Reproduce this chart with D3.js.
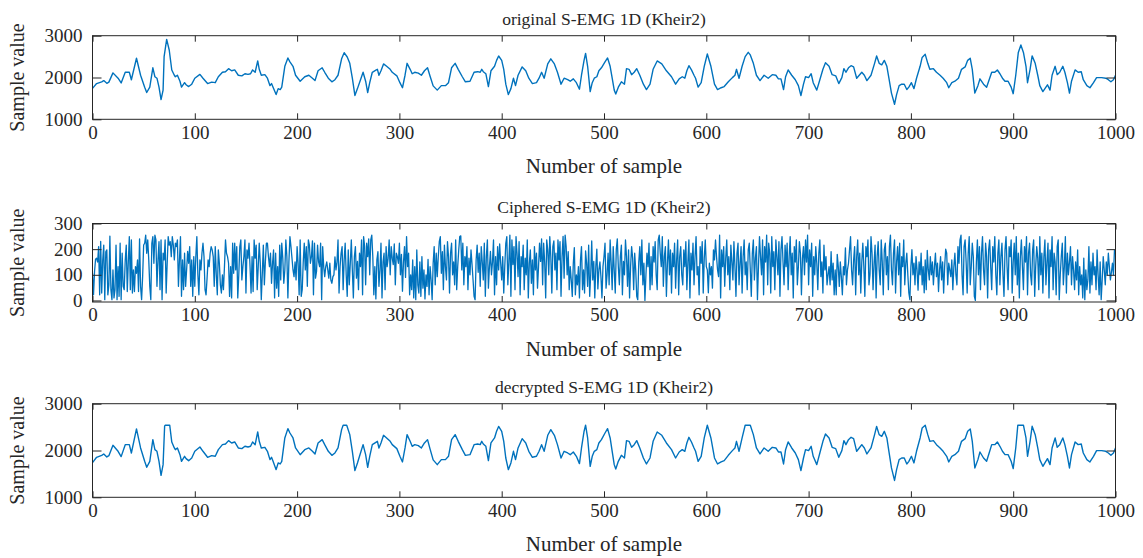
<!DOCTYPE html>
<html><head><meta charset="utf-8">
<script src="https://cdn.jsdelivr.net/npm/d3@7"></script>
<style>
body{margin:0;background:#fff}
svg text{font-family:"Liberation Serif","Times New Roman",serif;fill:#262626}
</style>
</head><body>
<svg id="chart" width="1143" height="558"></svg>
<script>
// ---------- data ----------
const sampleTicks = [0,100,200,300,400,500,600,700,800,900,1000];
const emgTicks = [1000,2000,3000];
const cipherTicks = [0,100,200,300];
const titles = ["original S-EMG 1D (Kheir2)","Ciphered S-EMG 1D (Kheir2)","decrypted S-EMG 1D (Kheir2)"];
const xLabel = "Number of sample";
const yLabel = "Sample value";

// original signal: [sample, value] turning points
const originalPoints = [[0,1740],[4,1855],[9,1897],[11,1926],[14,1862],[16,1890],[20,2111],[25,1983],[28,1869],[32,2125],[36,2125],[38,1947],[43,2460],[47,2054],[51,1769],[53,1641],[56,1769],[59,2232],[61,2018],[63,1983],[65,1769],[67,1470],[69,1698],[70,2498],[72.5,2913],[75,2658],[77.5,2180],[80,2054],[81,2018],[83,2054],[85.5,1911],[87,1769],[90,1876],[91.5,1826],[94,1783],[97,1840],[100,1983],[105,2075],[108,1983],[112.5,1855],[116.5,1890],[120,1876],[123,2018],[127,2125],[130,2139],[133,2211],[136,2161],[139,2182],[142.5,2054],[146,2040],[149,2090],[152,2075],[154.5,2090],[156.5,2182],[159,2125],[161.5,2396],[163,2196],[165,2054],[168.5,2068],[171,1983],[173.5,1805],[175,1855],[176.5,1769],[179.5,1591],[181.5,1734],[183.5,1712],[185,1769],[188,2268],[191,2467],[193,2374],[196,2268],[198.5,2054],[203,1911],[207.5,2018],[211.5,2054],[215,1983],[217.5,1926],[220.5,2161],[224.5,2232],[227,2125],[230.5,1983],[234,1897],[237,1947],[240,2054],[243.5,2446],[246,2594],[249,2490],[251.5,2339],[254,1983],[256.5,1570],[259,1734],[262.5,1983],[264.5,2125],[267,1911],[269,1641],[271,1876],[273.5,2125],[277,2175],[278.5,2196],[280,2054],[282,2161],[284.5,2325],[287.5,2268],[291,2196],[293,2125],[297.5,2040],[300.5,1876],[303,1755],[305.5,2054],[307.5,2339],[310.5,2196],[312.5,2090],[315,2125],[318.5,2104],[321.5,2054],[324.5,2161],[327.5,2232],[330,2030],[333,1800],[337,1698],[341,1805],[345,1805],[348,1876],[351,2232],[354.5,2339],[357.5,2196],[361.5,2018],[364.5,1897],[369,1911],[373,2125],[376.5,2139],[379,2125],[380.5,2196],[382,2139],[384.5,2090],[387,1783],[389.5,2161],[393,2268],[395,2410],[397,2514],[400,2410],[402,2196],[404,1840],[406.5,1591],[409,1734],[411.5,1983],[413.5,1805],[416,2054],[420,2253],[423.5,2161],[426.5,1983],[430,1855],[434,1876],[436.5,1983],[439,2125],[441.5,1983],[445,2325],[448,2446],[451.5,2325],[454.5,2125],[458,1840],[461,1983],[464.5,1947],[467,1911],[470,1968],[473,1876],[476,1720],[478,2054],[480.5,2410],[482,2578],[484,2268],[486.5,1662],[488.5,1876],[490.5,1983],[493,2018],[495,2161],[497.5,2232],[501,2374],[503.5,2467],[506,2268],[508,1983],[510,1698],[511.5,1605],[514,1769],[517,1897],[520,1840],[522,2211],[524.5,2196],[527,2068],[529.5,2125],[532,2211],[535,2054],[538.5,1840],[541.5,1712],[545,1840],[548,2196],[552,2396],[556.5,2325],[561,2161],[566,2018],[570,1840],[573.5,1968],[576.5,2018],[579,1983],[581,2161],[583,2282],[585.5,2182],[588,2054],[589.5,1983],[592,1769],[595,1876],[598,2268],[601,2562],[604.5,2268],[608,1840],[611,1712],[614.5,1755],[617.5,1783],[621.5,1897],[625.5,1997],[628,2054],[629.5,2196],[632,1983],[635,2268],[638,2500],[641,2602],[643,2540],[646,2339],[649,2054],[652.5,1926],[656.5,2054],[660.5,1983],[664.5,2068],[668,2054],[670.5,1968],[673,1968],[675.5,1712],[677.5,2018],[680,2182],[683.5,2054],[687,1947],[690,1805],[692.5,1570],[695,1840],[697,2018],[700,1997],[702.5,2090],[704.5,1876],[708,1698],[711,1947],[714,2196],[716.5,2353],[720,2268],[723,2068],[726.5,2040],[729.5,1855],[732.5,1997],[734.5,2211],[736.5,2125],[739,2232],[741.5,2282],[744,2253],[747,1983],[749.5,2054],[752,2125],[754.5,2054],[757,1926],[761,2054],[764.5,2339],[766.5,2514],[769,2339],[771.5,2303],[774,2410],[776.5,2268],[778.5,1983],[781,1627],[784,1360],[786,1591],[788.5,1805],[791,1840],[793.5,1840],[796,1712],[798,1769],[800.5,1876],[803,1734],[805.5,1983],[809,2268],[811,2481],[814,2554],[816.5,2339],[818.5,2196],[822,2211],[825,2125],[828.5,2054],[831.5,1983],[835,1876],[837,1755],[840,1876],[843,1911],[846.5,1983],[849.5,2196],[853,2253],[855.5,2410],[858,2460],[860,2196],[862.5,1627],[865.5,1805],[867.5,1968],[871,1840],[874,1769],[876.5,1947],[879,2125],[882,2125],[884.5,2182],[887,2090],[889.5,1983],[892,1911],[895,1911],[898,1769],[900,1613],[902.5,2054],[905,2600],[907.5,2777],[910,2600],[912.5,2268],[914,1876],[916.5,2196],[918.5,2517],[921.5,2339],[924,2054],[926,1805],[929,1662],[931,1734],[933.5,1826],[936,1698],[938,2054],[941,2268],[943,2068],[945.5,2125],[948.5,2268],[950.5,2125],[953,1876],[955,1627],[957,1911],[960.5,2182],[963.5,2125],[966.5,2139],[968.5,1947],[972,1805],[975,1755],[978.5,1876],[981.5,1997],[986.5,1997],[990.5,1983],[993,1947],[995.5,1897],[998,1947],[1000,2054]];

// ciphered signal: one value per sample (0..999)
const cipherValues = [
106,22,113,161,165,150,210,22,230,29,
158,216,3,190,197,22,61,251,42,3,
119,10,42,216,3,132,16,223,3,184,
55,42,158,216,35,150,249,42,236,29,
119,35,132,106,158,35,240,55,3,93,
216,223,255,184,236,158,55,3,223,249,
145,255,236,55,158,229,42,236,3,184,
158,236,29,145,249,216,229,171,249,216,
158,223,210,236,55,158,249,16,158,42,
184,55,119,191,145,210,55,158,16,171,
55,171,249,100,22,158,119,184,223,171,
42,22,87,158,132,184,210,197,171,55,
210,100,22,197,145,61,29,100,42,132,
236,184,171,145,16,132,10,223,106,223,
119,210,10,100,210,236,80,132,171,236,
29,197,165,223,132,29,171,35,236,165,
216,42,132,223,145,3,106,216,61,152,
223,223,171,132,184,67,145,197,10,184,
48,132,16,216,80,223,165,67,119,236,
171,10,152,249,210,165,119,93,150,80,
210,145,22,236,16,42,150,223,119,210,
55,236,216,145,171,232,22,223,87,113,
216,150,132,223,3,210,132,93,132,150,
119,87,145,80,67,93,100,170,119,150,
236,29,132,184,210,42,158,223,100,16,
197,61,145,236,119,10,171,210,87,152,
42,184,132,236,22,249,210,61,223,171,
240,100,236,255,171,22,132,6,158,190,
55,120,223,10,150,184,42,210,132,165,
236,100,210,165,140,220,61,184,171,145,
223,100,180,36,150,210,90,249,132,184,
22,100,42,158,10,132,3,197,61,29,
150,16,171,48,119,6,100,55,160,22,
132,80,3,145,210,61,184,93,171,229,
249,106,190,42,216,132,80,229,171,29,
184,223,100,150,61,236,42,132,197,249,
252,119,223,61,171,132,210,42,165,100,
197,140,80,16,3,158,216,110,184,55,
210,150,80,223,16,171,236,48,132,191,
100,150,236,22,171,61,210,119,220,145,
80,171,29,132,223,249,61,152,255,16,
236,140,210,42,249,184,93,229,22,171,
132,216,42,165,100,236,10,145,197,67,
158,22,210,119,184,48,132,223,152,240,
61,223,150,10,236,197,100,249,171,29,
210,232,119,184,42,236,158,229,16,171,
250,87,255,210,100,190,42,132,80,16,
145,206,22,100,61,132,10,158,210,42,
119,29,193,145,55,216,16,100,232,80,
152,10,132,200,45,119,150,93,10,132,
171,223,48,100,184,61,236,145,42,210,
119,29,197,240,132,61,171,216,22,152,
100,236,171,55,197,10,132,210,165,42,
184,119,16,3,150,210,100,236,61,145,
0,100,184,132,223,42,171,61,210,150,
229,100,42,236,255,184,132,249,55,171,
210,16,145,236,100,197,29,184,132,223,
48,158,236,22,171,210,100,61,197,132,
229,42,150,236,10,184,119,223,61,171,
249,100,132,22,210,145,229,29,165,236,
132,119,30,145,100,132,48,197,158,236,
171,119,93,255,10,197,132,210,55,165,
236,100,171,42,216,150,80,229,132,16,
184,223,61,145,210,29,171,236,100,150,
42,197,223,119,16,184,236,80,165,210,
3,132,249,171,100,236,22,210,150,255,
61,223,184,29,249,132,190,42,236,171,
100,229,16,197,249,150,61,216,132,223,
42,171,249,100,184,10,210,150,236,61,
132,229,184,22,165,210,100,236,150,255,
61,197,132,223,16,171,100,210,145,42,
184,236,93,150,29,216,119,171,61,100,
132,61,190,80,145,22,119,22,180,132,
55,150,93,22,132,100,205,61,119,145,
197,249,119,61,158,210,22,171,236,100,
184,29,150,223,132,16,210,171,236,61,
100,249,184,42,145,216,10,171,229,119,
61,236,150,22,197,223,100,171,42,210,
255,119,61,184,236,29,150,210,100,223,
16,171,132,236,61,145,184,100,29,3,
132,198,100,145,61,171,119,40,150,100,
184,61,132,30,158,42,195,119,80,171,
100,150,61,132,184,93,145,35,119,171,
80,150,29,132,200,184,61,145,119,93,
158,42,132,184,100,61,210,145,236,255,
100,22,210,236,150,29,184,249,61,132,
223,171,16,0,150,236,100,210,42,184,
249,119,61,223,171,10,197,236,132,42,
210,150,249,100,22,184,236,61,171,223,
100,16,197,249,132,42,210,171,236,29,
150,223,100,249,61,184,10,171,236,132,
42,210,150,249,22,184,223,100,61,197,
236,16,132,210,165,42,249,100,184,29,
171,236,61,150,223,10,197,132,249,42,
184,150,22,210,236,3,100,171,223,61,
132,249,29,184,100,150,210,61,171,119,
42,150,80,197,22,132,61,100,10,165,
3,119,42,80,210,29,150,61,184,100,
132,42,197,100,22,150,3,80,171,119,
61,150,100,184,132,80,110,145,100,197
];

// decrypted signal: [sample, value] turning points (flat tops near 2540)
const decryptedPoints = [[0,1740],[4,1855],[9,1897],[11,1926],[14,1862],[16,1890],[20,2111],[25,1983],[28,1869],[32,2125],[36,2125],[38,1947],[43,2460],[47,2054],[51,1769],[53,1641],[56,1769],[59,2232],[61,2018],[63,1983],[65,1769],[67,1470],[69,1698],[70.5,2520],[71,2540],[75.5,2540],[77.5,2180],[80,2054],[81,2018],[83,2054],[85.5,1911],[87,1769],[90,1876],[91.5,1826],[94,1783],[97,1840],[100,1983],[105,2075],[108,1983],[112.5,1855],[116.5,1890],[120,1876],[123,2018],[127,2125],[130,2139],[133,2211],[136,2161],[139,2182],[142.5,2054],[146,2040],[149,2090],[152,2075],[154.5,2090],[156.5,2182],[159,2125],[161.5,2396],[163,2196],[165,2054],[168.5,2068],[171,1983],[173.5,1805],[175,1855],[176.5,1769],[179.5,1591],[181.5,1734],[183.5,1712],[185,1769],[188,2268],[191,2467],[193,2374],[196,2268],[198.5,2054],[203,1911],[207.5,2018],[211.5,2054],[215,1983],[217.5,1926],[220.5,2161],[224.5,2232],[227,2125],[230.5,1983],[234,1897],[237,1947],[240,2054],[243.5,2446],[245,2540],[248.5,2540],[251.5,2339],[254,1983],[256.5,1570],[259,1734],[262.5,1983],[264.5,2125],[267,1911],[269,1641],[271,1876],[273.5,2125],[277,2175],[278.5,2196],[280,2054],[282,2161],[284.5,2325],[287.5,2268],[291,2196],[293,2125],[297.5,2040],[300.5,1876],[303,1755],[305.5,2054],[307.5,2339],[310.5,2196],[312.5,2090],[315,2125],[318.5,2104],[321.5,2054],[324.5,2161],[327.5,2232],[330,2030],[333,1800],[337,1698],[341,1805],[345,1805],[348,1876],[351,2232],[354.5,2339],[357.5,2196],[361.5,2018],[364.5,1897],[369,1911],[373,2125],[376.5,2139],[379,2125],[380.5,2196],[382,2139],[384.5,2090],[387,1783],[389.5,2161],[393,2268],[395,2410],[397,2514],[400,2410],[402,2196],[404,1840],[406.5,1591],[409,1734],[411.5,1983],[413.5,1805],[416,2054],[420,2253],[423.5,2161],[426.5,1983],[430,1855],[434,1876],[436.5,1983],[439,2125],[441.5,1983],[445,2325],[448,2446],[451.5,2325],[454.5,2125],[458,1840],[461,1983],[464.5,1947],[467,1911],[470,1968],[473,1876],[476,1720],[478,2054],[480.5,2410],[482,2540],[484,2268],[486.5,1662],[488.5,1876],[490.5,1983],[493,2018],[495,2161],[497.5,2232],[501,2374],[503.5,2467],[506,2268],[508,1983],[510,1698],[511.5,1605],[514,1769],[517,1897],[520,1840],[522,2211],[524.5,2196],[527,2068],[529.5,2125],[532,2211],[535,2054],[538.5,1840],[541.5,1712],[545,1840],[548,2196],[552,2396],[556.5,2325],[561,2161],[566,2018],[570,1840],[573.5,1968],[576.5,2018],[579,1983],[581,2161],[583,2282],[585.5,2182],[588,2054],[589.5,1983],[592,1769],[595,1876],[598,2268],[601,2540],[604.5,2268],[608,1840],[611,1712],[614.5,1755],[617.5,1783],[621.5,1897],[625.5,1997],[628,2054],[629.5,2196],[632,1983],[635,2268],[638,2540],[643,2540],[646,2339],[649,2054],[652.5,1926],[656.5,2054],[660.5,1983],[664.5,2068],[668,2054],[670.5,1968],[673,1968],[675.5,1712],[677.5,2018],[680,2182],[683.5,2054],[687,1947],[690,1805],[692.5,1570],[695,1840],[697,2018],[700,1997],[702.5,2090],[704.5,1876],[708,1698],[711,1947],[714,2196],[716.5,2353],[720,2268],[723,2068],[726.5,2040],[729.5,1855],[732.5,1997],[734.5,2211],[736.5,2125],[739,2232],[741.5,2282],[744,2253],[747,1983],[749.5,2054],[752,2125],[754.5,2054],[757,1926],[761,2054],[764.5,2339],[766.5,2514],[769,2339],[771.5,2303],[774,2410],[776.5,2268],[778.5,1983],[781,1627],[784,1360],[786,1591],[788.5,1805],[791,1840],[793.5,1840],[796,1712],[798,1769],[800.5,1876],[803,1734],[805.5,1983],[809,2268],[811,2481],[814,2540],[816.5,2339],[818.5,2196],[822,2211],[825,2125],[828.5,2054],[831.5,1983],[835,1876],[837,1755],[840,1876],[843,1911],[846.5,1983],[849.5,2196],[853,2253],[855.5,2410],[858,2460],[860,2196],[862.5,1627],[865.5,1805],[867.5,1968],[871,1840],[874,1769],[876.5,1947],[879,2125],[882,2125],[884.5,2182],[887,2090],[889.5,1983],[892,1911],[895,1911],[898,1769],[900,1613],[902.5,2054],[904.5,2540],[910,2540],[912.5,2268],[914,1876],[916.5,2196],[918.5,2517],[921.5,2339],[924,2054],[926,1805],[929,1662],[931,1734],[933.5,1826],[936,1698],[938,2054],[941,2268],[943,2068],[945.5,2125],[948.5,2268],[950.5,2125],[953,1876],[955,1627],[957,1911],[960.5,2182],[963.5,2125],[966.5,2139],[968.5,1947],[972,1805],[975,1755],[978.5,1876],[981.5,1997],[986.5,1997],[990.5,1983],[993,1947],[995.5,1897],[998,1947],[1000,2054]];

// ---------- drawing ----------
const svg = d3.select("#chart");
const left = 92.5, right = 1115.5;
const lineColor = "#0072BD", axisColor = "#262626";
const fontFamily = '"Liberation Serif","Times New Roman",serif';

const panels = [
  {top:35.7, bottom:119.3, domain:[1000,3000], ticks:emgTicks, title:titles[0], data:originalPoints, pairs:true},
  {top:223.5, bottom:302, domain:[-6,300], ticks:cipherTicks, title:titles[1], data:cipherValues, pairs:false},
  {top:403.7, bottom:497.3, domain:[1000,3000], ticks:emgTicks, title:titles[2], data:decryptedPoints, pairs:true}
];

const x = d3.scaleLinear().domain([0,1000]).range([left,right]);

panels.forEach(p => {
  const y = d3.scaleLinear().domain(p.domain).range([p.bottom,p.top]);
  const g = svg.append("g");

  const id = "clip" + Math.round(p.top);
  svg.append("clipPath").attr("id", id).append("rect")
    .attr("x", left).attr("y", p.top).attr("width", right-left).attr("height", p.bottom-p.top);

  const line = p.pairs
    ? d3.line().x(d => x(d[0])).y(d => y(d[1]))
    : d3.line().x((d,i) => x(i)).y(d => y(d));
  g.append("path").datum(p.data)
    .attr("clip-path", `url(#${id})`)
    .attr("fill","none").attr("stroke",lineColor)
    .attr("stroke-width", p.pairs ? 1.4 : 1.3)
    .attr("stroke-linejoin","round")
    .attr("d", line);

  const xb = g.append("g").attr("transform",`translate(0,${p.bottom})`)
    .call(d3.axisBottom(x).tickValues(sampleTicks).tickSize(-6).tickPadding(6).tickFormat(d3.format("d")));
  const xt = g.append("g").attr("transform",`translate(0,${p.top})`)
    .call(d3.axisTop(x).tickValues(sampleTicks).tickSize(-6).tickFormat(""));
  const yl = g.append("g").attr("transform",`translate(${left},0)`)
    .call(d3.axisLeft(y).tickValues(p.ticks).tickSize(-9).tickPadding(10).tickFormat(d3.format("d")));
  const yr = g.append("g").attr("transform",`translate(${right},0)`)
    .call(d3.axisRight(y).tickValues(p.ticks).tickSize(-9).tickFormat(""));
  [xb,xt,yl,yr].forEach(a => {
    a.select(".domain").remove();
    a.selectAll("line").attr("stroke",axisColor).attr("stroke-width",1);
    a.selectAll("text").attr("fill",axisColor).style("font-size","19px").style("font-family",fontFamily);
  });

  g.append("rect").attr("x",left).attr("y",p.top).attr("width",right-left).attr("height",p.bottom-p.top)
    .attr("fill","none").attr("stroke",axisColor).attr("stroke-width",1);

  g.append("text").attr("x",(left+right)/2).attr("y",p.top-11)
    .attr("text-anchor","middle").style("font-size","17.5px").text(p.title);
  g.append("text").attr("x",(left+right)/2).attr("y",p.bottom+54)
    .attr("text-anchor","middle").style("font-size","21px").text(xLabel);
  g.append("text").attr("transform",`translate(24,${(p.top+p.bottom)/2}) rotate(-90)`)
    .attr("text-anchor","middle").style("font-size","20px").text(yLabel);
});
</script>
</body></html>
